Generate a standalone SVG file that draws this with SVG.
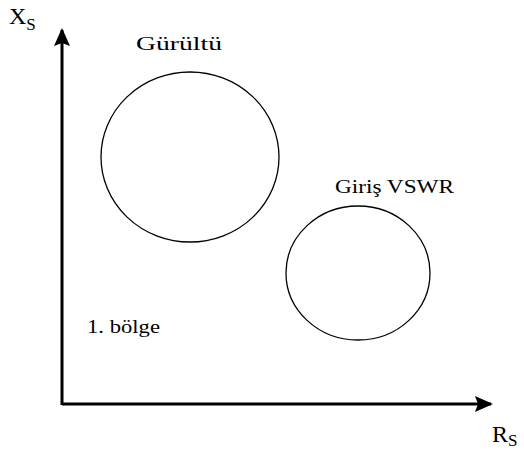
<svg xmlns="http://www.w3.org/2000/svg" width="524" height="451" viewBox="0 0 524 451">
<style>
.ax{stroke:#000;stroke-width:3;fill:none}
.c{stroke:#000;stroke-width:1.3;fill:none}
.t{font-family:"Liberation Serif","DejaVu Serif",serif;fill:#000}
.l{font-size:18px}
</style>
<defs>
<marker id="ah2" viewBox="0 0 18 18" markerWidth="18" markerHeight="18" refX="16" refY="9" orient="auto" markerUnits="userSpaceOnUse">
<path d="M0,1 L18,9 L0,17 L3,9 Z" fill="#000"/>
</marker>
</defs>
<g id="connectors">
<line class="ax" x1="62" y1="405" x2="62" y2="30" marker-end="url(#ah2)"/>
<line class="ax" x1="62" y1="404" x2="491" y2="404" marker-end="url(#ah2)"/>
</g>
<g id="xs"><text class="t" x="9" y="24" font-size="24">X<tspan font-size="17" dy="6">S</tspan></text></g>
<g id="rs"><text class="t" x="492" y="442" font-size="24">R<tspan font-size="17" dy="4">S</tspan></text></g>
<g id="gurultu">
<ellipse class="c" cx="190" cy="157" rx="89" ry="85"/>
<text class="t l" x="136" y="50" textLength="86" lengthAdjust="spacingAndGlyphs">Gürültü</text>
</g>
<g id="vswr">
<ellipse class="c" cx="358" cy="273" rx="72" ry="67"/>
<text class="t l" x="335" y="193" textLength="119" lengthAdjust="spacingAndGlyphs">Giriş VSWR</text>
</g>
<g id="bolge"><text class="t l" x="87" y="333" textLength="73" lengthAdjust="spacingAndGlyphs">1. bölge</text></g>
</svg>
